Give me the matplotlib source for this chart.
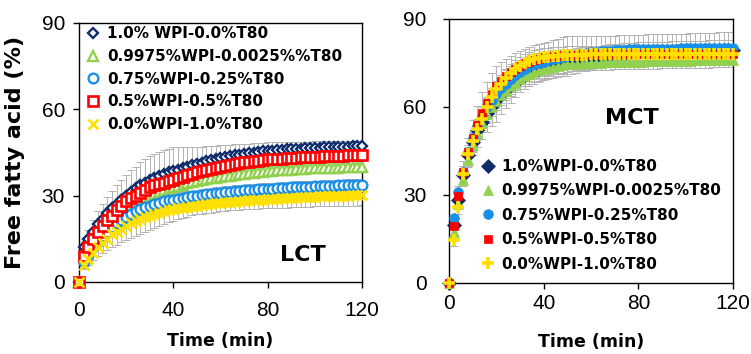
import matplotlib
matplotlib.use("Agg")
import matplotlib.pyplot as plt

# sampling times (min)
time = list(range(0, 121, 2))

labels_lct = ['1.0% WPI-0.0%T80', '0.9975%WPI-0.0025%%T80', '0.75%WPI-0.25%T80',
              '0.5%WPI-0.5%T80', '0.0%WPI-1.0%T80']
labels_mct = ['1.0%WPI-0.0%T80', '0.9975%WPI-0.0025%T80', '0.75%WPI-0.25%T80',
              '0.5%WPI-0.5%T80', '0.0%WPI-1.0%T80']

# ---- LCT free fatty acid (%) ----
lct_wpi100 = [0, 12, 15, 17.5, 20, 22, 24, 25.5, 27, 28.5,
              30, 31.3, 32.5, 33.5, 34.5, 35.3, 36, 36.7, 37.5, 38,
              38.5, 39, 39.5, 40, 40.5, 41, 41.4, 41.8, 42.2, 42.6,
              43, 43.3, 43.6, 43.9, 44.2, 44.5, 44.7, 44.9, 45.1, 45.3,
              45.5, 45.6, 45.8, 45.9, 46.1, 46.2, 46.3, 46.3, 46.4, 46.5,
              46.6, 46.6, 46.7, 46.7, 46.8, 46.9, 46.9, 46.9, 47.0, 47.0,
              47.0]
lct_wpi9975 = [0, 9, 12, 14.5, 16.5, 18.5, 20, 21.5, 23, 24.5,
               25.5, 26.5, 27.5, 28.3, 29, 29.8, 30.5, 31.2, 31.8, 32.4,
               33, 33.4, 33.8, 34.2, 34.6, 35, 35.3, 35.6, 35.9, 36.2,
               36.5, 36.7, 36.9, 37.1, 37.3, 37.5, 37.7, 37.9, 38.1, 38.3,
               38.5, 38.6, 38.7, 38.8, 38.9, 39, 39.1, 39.2, 39.3, 39.4,
               39.5, 39.5, 39.6, 39.6, 39.7, 39.7, 39.8, 39.8, 39.9, 39.9,
               40]
lct_wpi75 = [0, 7, 9.5, 12, 14, 16, 17.5, 19, 20.5, 21.5,
             22.5, 23.5, 24.5, 25.3, 26, 26.5, 27, 27.5, 28, 28.3,
             28.5, 28.8, 29.1, 29.4, 29.7, 30, 30.2, 30.4, 30.6, 30.8,
             31, 31.2, 31.3, 31.5, 31.6, 31.8, 31.9, 32, 32.1, 32.2,
             32.3, 32.4, 32.5, 32.6, 32.7, 32.8, 32.9, 33, 33, 33.1,
             33.2, 33.2, 33.3, 33.3, 33.4, 33.5, 33.5, 33.6, 33.6, 33.7,
             33.7]
lct_wpi50 = [0, 9, 12, 15, 17.5, 19.5, 21.5, 23, 25, 26.5,
             28, 29, 30, 31, 32, 32.8, 33.5, 34, 34.5, 35,
             35.5, 36, 36.5, 37, 37.5, 38, 38.4, 38.8, 39.2, 39.6,
             40, 40.3, 40.6, 40.9, 41.2, 41.5, 41.7, 41.9, 42.1, 42.3,
             42.5, 42.6, 42.7, 42.8, 42.9, 43, 43.1, 43.2, 43.3, 43.4,
             43.5, 43.5, 43.6, 43.6, 43.7, 43.8, 43.8, 43.9, 43.9, 44,
             44]
lct_wpi0 = [0, 6, 8, 10, 12, 13.5, 15, 16.5, 17.5, 18.5,
            19.5, 20.3, 21, 21.8, 22.5, 23, 23.5, 24, 24.5, 24.9,
            25.3, 25.5, 25.8, 26, 26.3, 26.5, 26.7, 26.9, 27.1, 27.3,
            27.5, 27.6, 27.8, 27.9, 28.1, 28.2, 28.3, 28.4, 28.5, 28.6,
            28.7, 28.8, 28.9, 29, 29.1, 29.2, 29.3, 29.4, 29.4, 29.5,
            29.6, 29.7, 29.7, 29.8, 29.8, 29.9, 29.9, 30, 30.1, 30.1,
            30.2]

# LCT standard deviations
lct_err_wpi100 = [0, 2, 3, 4, 4.5, 5, 5.5, 6, 6.5, 7,
                  7, 7.5, 7.5, 8, 8, 8.4, 8.4, 8.4, 8.4, 8.3,
                  8.3, 7.8, 7.3, 6.8, 6.3, 5.8, 5.5, 5.2, 4.9, 4.6,
                  4.4, 4.2, 4, 3.8, 3.6, 3.4, 3.3, 3.2, 3.1, 3,
                  2.9, 2.8, 2.7, 2.6, 2.5, 2.4, 2.4, 2.3, 2.3, 2.2,
                  2.2, 2.2, 2.1, 2.1, 2.1, 2, 2, 2, 2, 2,
                  2]
lct_err_wpi9975 = [0, 1, 1, 1, 1.2, 1.2, 1.2, 1.3, 1.3, 1.3,
                   1.4, 1.4, 1.4, 1.4, 1.5, 1.5, 1.5, 1.5, 1.5, 1.5,
                   1.5, 1.5, 1.5, 1.5, 1.5, 1.5, 1.5, 1.5, 1.5, 1.5,
                   1.5, 1.5, 1.5, 1.5, 1.5, 1.5, 1.5, 1.5, 1.5, 1.5,
                   1.5, 1.5, 1.5, 1.5, 1.5, 1.5, 1.5, 1.5, 1.5, 1.5,
                   1.5, 1.5, 1.5, 1.5, 1.5, 1.5, 1.5, 1.5, 1.5, 1.5,
                   1.5]
lct_err_wpi75 = [0, 1, 1.2, 1.4, 1.6, 1.8, 2, 2, 2, 2,
                 2, 2, 2, 2, 2, 2, 2, 2, 2, 2,
                 2, 2, 2, 2, 2, 2, 2, 2, 2, 2,
                 2, 2, 2, 2, 2, 2, 2, 2, 2, 2,
                 2, 2, 2, 2, 2, 2, 2, 2, 2, 2,
                 2, 2, 2, 2, 2, 2, 2, 2, 2, 2,
                 2]
lct_err_wpi50 = [0, 1, 1.2, 1.4, 1.6, 1.8, 2, 2, 2, 2,
                 2, 2, 2, 2, 2, 2, 2, 2, 2, 2,
                 2, 2, 2, 2, 2, 2, 2, 2, 2, 2,
                 2, 2, 2, 2, 2, 2, 2, 2, 2, 2,
                 2, 2, 2, 2, 2, 2, 2, 2, 2, 2,
                 2, 2, 2, 2, 2, 2, 2, 2, 2, 2,
                 2]
lct_err_wpi0 = [0, 1.5, 2, 2.5, 3, 3.5, 4, 4.3, 4.6, 4.8,
                5, 5, 5, 5, 5, 5, 4.8, 4.6, 4.4, 4.2,
                4, 3.8, 3.6, 3.4, 3.2, 3, 3, 3, 3, 3,
                3, 3, 3, 3, 3, 3, 3.1, 3.1, 3.1, 3.1,
                3.2, 3.2, 3.2, 3.2, 3.3, 3.3, 3.3, 3.3, 3.4, 3.4,
                3.4, 3.4, 3.5, 3.5, 3.5, 3.5, 3.5, 3.6, 3.6, 3.6,
                3.6]

# ---- MCT free fatty acid (%) ----
mct_wpi100 = [0, 19.8, 28.3, 36.8, 43.6, 48, 52, 55, 58, 60.5,
              62.5, 64.3, 66, 67.5, 69, 70, 71, 71.8, 72.5, 73,
              73.5, 74, 74.5, 75, 75.3, 75.6, 76, 76.3, 76.6, 76.8,
              77, 77.2, 77.4, 77.6, 77.8, 78, 78.1, 78.2, 78.3, 78.4,
              78.5, 78.6, 78.6, 78.7, 78.7, 78.8, 78.8, 78.9, 78.9, 79,
              79, 79, 79.1, 79.1, 79.1, 79.2, 79.2, 79.2, 79.3, 79.3,
              79.3]
mct_wpi9975 = [0, 17.5, 27, 35, 42, 47, 51, 54.5, 57.5, 60,
               62, 64, 65.5, 67, 68.3, 69.5, 70.5, 71.3, 72, 72.5,
               73, 73.4, 73.7, 74, 74.2, 74.5, 74.6, 74.7, 74.8, 74.9,
               75, 75.1, 75.1, 75.2, 75.2, 75.3, 75.3, 75.4, 75.4, 75.5,
               75.5, 75.5, 75.6, 75.6, 75.6, 75.7, 75.7, 75.7, 75.8, 75.8,
               75.8, 75.8, 75.9, 75.9, 75.9, 75.9, 76, 76, 76, 76,
               76]
mct_wpi75 = [0, 22, 31, 38, 44.5, 49.5, 53.5, 57, 60, 62.5,
             64.5, 66.5, 68, 69.5, 70.8, 72, 73, 73.8, 74.5, 75,
             75.5, 76, 76.4, 76.8, 77.1, 77.4, 77.7, 78, 78.2, 78.4,
             78.6, 78.8, 79, 79.1, 79.2, 79.3, 79.4, 79.5, 79.6, 79.6,
             79.7, 79.7, 79.8, 79.8, 79.8, 79.9, 79.9, 79.9, 79.9, 80,
             80, 80, 80, 80, 80, 80, 80, 80, 80, 80,
             80]
mct_wpi50 = [0, 19.5, 29.5, 38, 44.5, 49.5, 54, 58, 61.5, 64.5,
             67, 69, 70.5, 72, 73, 74, 75, 75.5, 76, 76.5,
             77, 77.2, 77.4, 77.5, 77.6, 77.7, 77.8, 77.8, 77.9, 77.9,
             78, 78, 78, 78, 78, 78, 78, 78, 78, 78,
             78, 78, 78, 78, 78, 78, 78, 78, 78, 78,
             78, 78, 78, 78, 78, 78, 78, 78, 78, 78,
             78]
mct_wpi0 = [0, 14.5, 26, 37, 44, 48.5, 52.5, 56, 60, 63.5,
            66, 68, 70, 71.5, 73, 74, 75, 75.8, 76.5, 76.8,
            77, 77.2, 77.4, 77.5, 77.6, 77.7, 77.7, 77.8, 77.8, 77.8,
            77.9, 77.9, 77.9, 77.9, 78, 78, 78, 78, 78, 78,
            78, 78, 78, 78, 78, 78, 78, 78, 78, 78,
            78, 78, 78, 78, 78, 78, 78, 78, 78, 78,
            78]

# MCT standard deviations
mct_err_wpi100 = [0, 1, 1.5, 2, 2.5, 3, 3, 3.5, 3.5, 3.5,
                  3.6, 3.6, 3.7, 3.7, 3.8, 3.8, 3.9, 3.9, 4, 4,
                  4, 4, 4, 3.9, 3.9, 3.8, 3.8, 3.7, 3.7, 3.6,
                  3.6, 3.6, 3.5, 3.5, 3.5, 3.5, 3.5, 3.5, 3.5, 3.5,
                  3.5, 3.5, 3.5, 3.5, 3.5, 3.5, 3.5, 3.5, 3.5, 3.5,
                  3.5, 3.5, 3.5, 3.5, 3.5, 3.5, 3.5, 3.5, 3.5, 3.5,
                  3.5]
mct_err_wpi9975 = [0, 1, 1.5, 2, 2, 2.2, 2.2, 2.3, 2.3, 2.4,
                   2.4, 2.5, 2.5, 2.5, 2.5, 2.5, 2.5, 2.5, 2.5, 2.5,
                   2.5, 2.5, 2.5, 2.5, 2.5, 2.5, 2.5, 2.5, 2.5, 2.5,
                   2.5, 2.5, 2.5, 2.5, 2.5, 2.5, 2.5, 2.5, 2.5, 2.5,
                   2.5, 2.5, 2.5, 2.5, 2.5, 2.5, 2.5, 2.5, 2.5, 2.5,
                   2.5, 2.5, 2.5, 2.5, 2.5, 2.5, 2.5, 2.5, 2.5, 2.5,
                   2.5]
mct_err_wpi75 = [0, 1, 2, 3.5, 5, 6, 7, 8, 8.5, 9,
                 9.5, 9, 8.5, 8, 7.5, 7, 6.8, 6.6, 6.5, 6.4,
                 6.3, 6.3, 6.4, 6.5, 6.6, 6.7, 6.5, 6.3, 6.1, 5.9,
                 5.7, 5.5, 5.3, 5.2, 5.1, 5, 5, 5, 5, 5,
                 5, 5, 5, 5, 5, 5, 5, 5, 5, 5,
                 5, 5.1, 5.1, 5.2, 5.2, 5.3, 5.3, 5.4, 5.4, 5.5,
                 5.5]
mct_err_wpi50 = [0, 1, 1.5, 2, 2, 2, 2, 2, 2, 2,
                 2, 2, 2, 2, 2, 2, 2, 2, 2, 2,
                 2, 2, 2, 2, 2, 2, 2, 2, 2, 2,
                 2, 2, 2, 2, 2, 2, 2, 2, 2, 2,
                 2, 2, 2, 2, 2, 2, 2, 2, 2, 2,
                 2, 2, 2, 2, 2, 2, 2, 2, 2, 2,
                 2]
mct_err_wpi0 = [0, 2, 2.5, 3, 3, 3, 3, 3, 3, 3,
                3, 3, 3, 3, 3, 3, 3, 3, 3, 3,
                3, 3, 3, 3, 3, 3, 3, 3, 3, 3,
                3, 3, 3, 3, 3, 3, 3, 3, 3, 3,
                3, 3, 3, 3, 3, 3, 3, 3, 3, 3,
                3, 3, 3, 3, 3, 3, 3, 3, 3, 3,
                3]

colors = ['#0f2d6b', '#92d050', '#1a8fe8', '#ff0000', '#ffe000']
errcolor = '#b3b3b3'
bold_font = 'DejaVu Sans'
tick_font = 'Liberation Sans'

fig = plt.figure(figsize=(7.51, 3.54), dpi=100)
ax1 = fig.add_axes([0.1052, 0.2034, 0.3768, 0.733])
ax2 = fig.add_axes([0.5979, 0.2006, 0.3782, 0.7458])

# LCT panel: open markers
lct_vals = [lct_wpi100, lct_wpi9975, lct_wpi75, lct_wpi50, lct_wpi0]
lct_errs = [lct_err_wpi100, lct_err_wpi9975, lct_err_wpi75, lct_err_wpi50, lct_err_wpi0]
lct_markers = [('D', 5.2, 1.7), ('^', 7, 1.7), ('o', 7, 1.7), ('s', 7, 1.9), ('x', 6.5, 2.0)]
for vals, err in zip(lct_vals, lct_errs):
    ax1.errorbar(time, vals, yerr=err, fmt='none', ecolor=errcolor,
                 elinewidth=0.7, capsize=3, capthick=0.7, zorder=1)
for vals, lab, c, (m, ms, mew) in zip(lct_vals, labels_lct, colors, lct_markers):
    face = c if m == 'x' else 'white'
    ax1.plot(time, vals, linestyle='none', marker=m, markersize=ms,
             markerfacecolor=face, markeredgecolor=c, markeredgewidth=mew,
             label=lab, zorder=3, clip_on=False)

# MCT panel: filled markers
mct_vals = [mct_wpi100, mct_wpi9975, mct_wpi75, mct_wpi50, mct_wpi0]
mct_errs = [mct_err_wpi100, mct_err_wpi9975, mct_err_wpi75, mct_err_wpi50, mct_err_wpi0]
mct_markers = [('D', 7.5, 0.5), ('^', 7.5, 0.5), ('o', 7, 0.5), ('s', 6, 0.5), ('+', 9, 2.6)]
for vals, err in zip(mct_vals, mct_errs):
    ax2.errorbar(time, vals, yerr=err, fmt='none', ecolor=errcolor,
                 elinewidth=0.7, capsize=3, capthick=0.7, zorder=1)
for vals, lab, c, (m, ms, mew) in zip(mct_vals, labels_mct, colors, mct_markers):
    ax2.plot(time, vals, linestyle='none', marker=m, markersize=ms,
             markerfacecolor=c, markeredgecolor=c, markeredgewidth=mew,
             label=lab, zorder=3, clip_on=False)

for ax, xpad, ypad in [(ax1, 10, 6), (ax2, 4, 12)]:
    ax.set_xlim(0, 120)
    ax.set_ylim(0, 90)
    ax.set_xticks([0, 40, 80, 120])
    ax.set_yticks([0, 30, 60, 90])
    ax.tick_params(axis='x', direction='out', length=4, width=1, pad=xpad)
    ax.tick_params(axis='y', direction='out', length=4, width=1, pad=ypad)
    for lab in ax.get_xticklabels() + ax.get_yticklabels():
        lab.set_fontfamily(tick_font)
        lab.set_fontsize(15)
    for sp in ax.spines.values():
        sp.set_linewidth(1.0)
        sp.set_color('black')
    ax.set_xlabel('Time (min)', fontfamily=bold_font, fontweight='bold',
                  fontsize=12.5, labelpad=8 if ax is ax1 else 14)

ax1.set_ylabel('Free fatty acid (%)', fontfamily=bold_font, fontweight='bold',
               fontsize=16, labelpad=12)

leg1 = ax1.legend(loc='upper left', bbox_to_anchor=(0.023, 0.985), frameon=False,
                  borderpad=0, borderaxespad=0, handlelength=1, handletextpad=0.4,
                  labelspacing=0.5, prop={'family': bold_font, 'weight': 'bold', 'size': 11})
leg2 = ax2.legend(loc='upper left', bbox_to_anchor=(0.11, 0.47), frameon=False,
                  borderpad=0, borderaxespad=0, handlelength=1, handletextpad=0.4,
                  labelspacing=0.62, prop={'family': bold_font, 'weight': 'bold', 'size': 11})

ax1.text(0.79, 0.104, 'LCT', transform=ax1.transAxes, ha='center', va='center',
         fontfamily=bold_font, fontweight='bold', fontsize=16)
ax2.text(0.645, 0.625, 'MCT', transform=ax2.transAxes, ha='center', va='center',
         fontfamily=bold_font, fontweight='bold', fontsize=16)

fig.savefig('out.png', dpi=100)
